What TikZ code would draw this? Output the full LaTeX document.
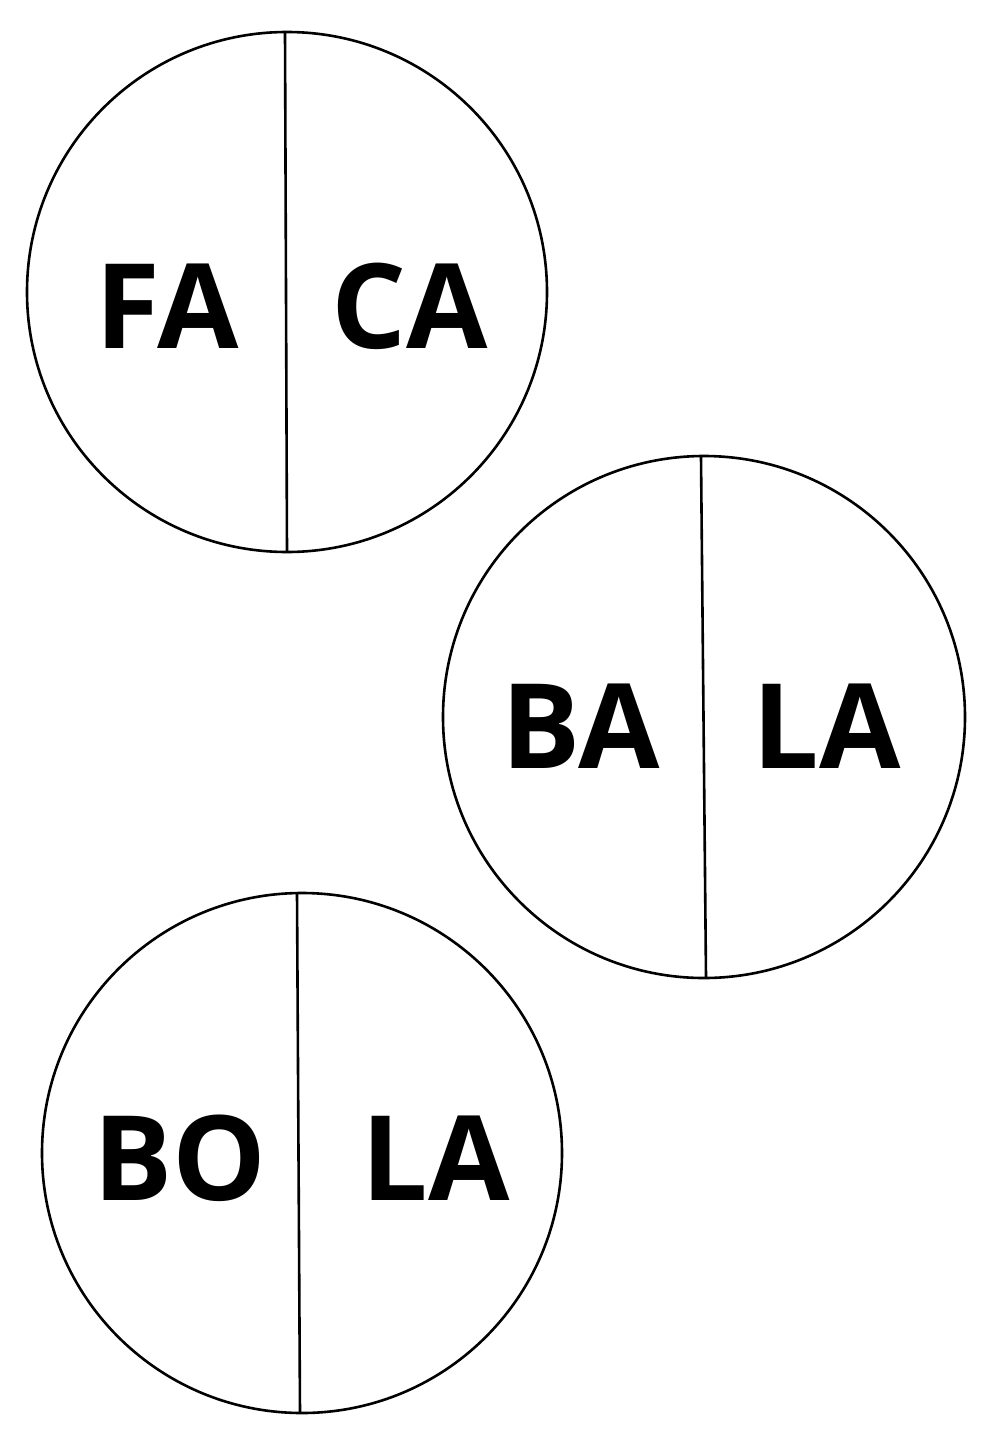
\documentclass[tikz,border=0pt]{standalone}
\usepackage{fontspec}
\setsansfont{Open Sans}
\begin{document}
\begin{tikzpicture}[x=1pt,y=-1pt,line width=2.6pt,
    syl/.style={anchor=base,font=\sffamily\bfseries\fontsize{118}{130}\selectfont,inner sep=0pt}]
    \tikzstyle{disc}=[circle,draw,minimum size=520pt,inner sep=0pt]
    \useasboundingbox (0,0) rectangle (1000,1430);

    \node[disc] (faca) at (287,292) {};
    \node[disc,minimum size=522pt] (bala) at (704,717) {};
    \node[disc] (bola) at (302,1153) {};

    \coordinate (faca top) at (285,32);
    \coordinate (faca bot) at (287,552);
    \coordinate (bala top) at (701,457);
    \coordinate (bala bot) at (706,977);
    \coordinate (bola top) at (297,893);
    \coordinate (bola bot) at (300,1413);

    \draw (faca top) -- (faca bot);
    \draw (bala top) -- (bala bot);
    \draw (bola top) -- (bola bot);

    \node[syl] (fa) at (167,348) {FA};
    \node[syl] (ca) at (410,348) {CA};
    \node[syl] (ba) at (581,768) {BA};
    \node[syl] (la1) at (827,768) {LA};
    \node[syl] (bo) at (180,1200) {BO};
    \node[syl] (la2) at (436,1200) {LA};

  \end{tikzpicture}
\end{document}
